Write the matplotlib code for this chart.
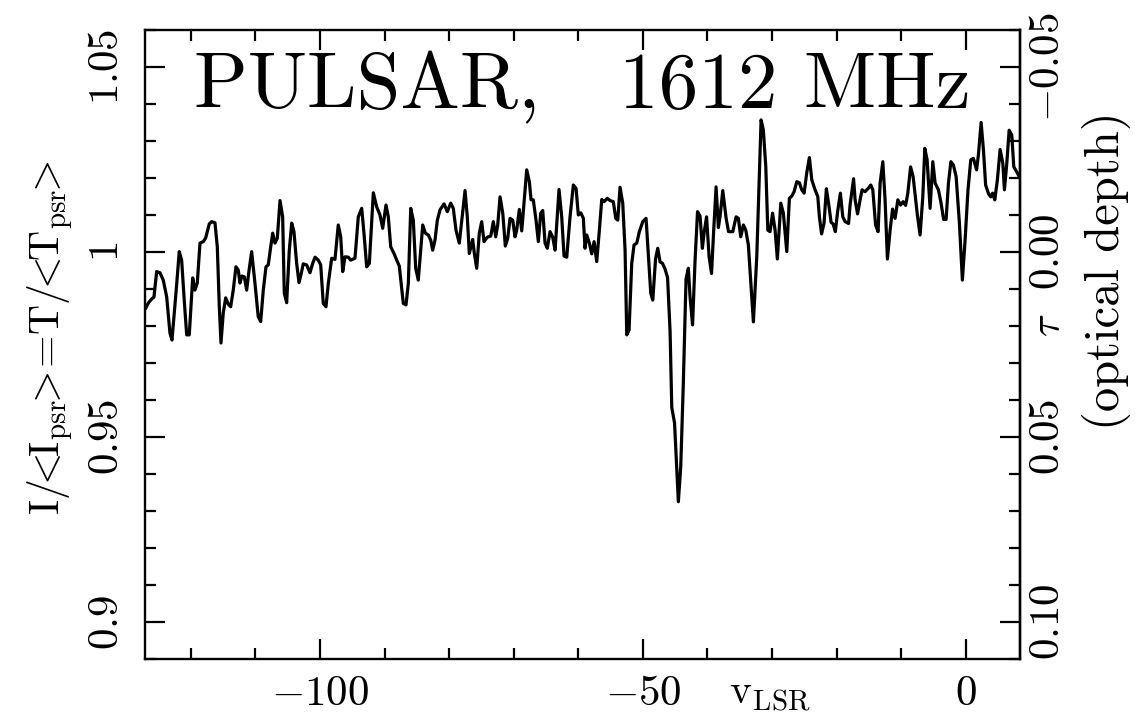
import numpy as np
import matplotlib
matplotlib.use('Agg')
import matplotlib.pyplot as plt
from matplotlib.ticker import MultipleLocator, FixedLocator

plt.rcParams['mathtext.fontset'] = 'cm'
plt.rcParams['font.family'] = ['cmr10', 'DejaVu Serif']
plt.rcParams['axes.formatter.use_mathtext'] = True

# LSR velocity (km/s) of each spectrum vertex
vlsr = [
    -126.95, -126.59, -126.06, -125.71, -125.29, -124.78, -124.27, -123.74, -123.23, -122.92,
    -122.30, -121.79, -121.42, -121.02, -120.64, -120.24, -119.71, -119.36, -119.00, -118.58,
    -118.07, -117.70, -117.14, -116.77, -116.26, -115.90, -115.59, -115.33, -114.98, -114.60,
    -114.20, -113.83, -113.43, -113.01, -112.65, -112.39, -112.08, -111.72, -111.35, -111.04,
    -110.58, -110.07, -109.56, -109.18, -108.78, -108.36, -108.01, -107.63, -107.32, -106.97,
    -106.61, -106.19, -105.78, -105.53, -105.16, -104.75, -104.38, -104.03, -103.61, -103.25,
    -102.90, -102.59, -102.06, -101.55, -101.13, -100.77, -100.26, -99.89, -99.49, -99.07,
    -98.71, -98.19, -97.68, -97.17, -96.79, -96.48, -96.13, -95.62, -95.25, -94.58,
    -94.07, -93.54, -93.19, -92.77, -92.36, -91.74, -91.22, -90.71, -90.29, -89.78,
    -89.42, -89.05, -88.54, -88.12, -87.72, -87.10, -86.68, -86.32, -85.95, -85.55,
    -85.18, -84.78, -84.09, -83.69, -83.23, -82.85, -82.55, -82.19, -81.83, -81.41,
    -80.79, -80.28, -79.76, -79.36, -78.94, -78.43, -77.54, -77.19, -76.88, -76.35,
    -76.10, -75.73, -75.33, -74.96, -74.60, -74.09, -73.56, -73.16, -72.79, -72.48,
    -72.12, -71.70, -71.30, -70.93, -70.57, -70.16, -69.80, -69.54, -69.13, -68.76,
    -67.99, -67.58, -67.32, -66.97, -66.55, -66.19, -65.82, -65.51, -65.15, -64.80,
    -64.38, -63.96, -63.60, -62.99, -62.57, -62.21, -61.79, -61.28, -60.77, -60.35,
    -60.00, -59.62, -59.22, -58.96, -58.70, -58.29, -57.92, -57.56, -57.15, -56.74,
    -56.37, -56.02, -55.51, -55.09, -54.58, -54.20, -53.89, -53.54, -53.12, -52.76,
    -52.50, -52.14, -51.73, -51.37, -50.95, -50.55, -50.02, -49.51, -49.16, -48.78,
    -48.47, -48.04, -47.70, -47.34, -46.99, -46.57, -46.18, -45.79, -45.53, -45.10,
    -44.51, -44.14, -43.74, -43.32, -42.96, -42.70, -42.31, -41.92, -41.54, -41.15,
    -40.79, -40.53, -40.14, -39.75, -39.37, -39.06, -38.67, -38.31, -38.05, -37.63,
    -37.12, -36.74, -36.08, -35.57, -35.22, -34.85, -34.44, -34.07, -33.67, -32.89,
    -32.37, -32.01, -31.70, -31.35, -30.97, -30.66, -30.31, -29.92, -29.53, -29.18,
    -28.65, -28.25, -27.72, -27.32, -26.95, -26.59, -26.17, -25.77, -25.40, -25.04,
    -24.62, -24.22, -23.85, -23.34, -22.92, -22.67, -22.33, -21.95, -21.59, -21.25,
    -20.86, -20.55, -20.20, -19.85, -19.42, -19.05, -18.69, -18.15, -17.92, -17.38,
    -17.14, -16.76, -16.37, -16.06, -15.60, -15.05, -14.71, -14.40, -13.97, -13.58,
    -13.27, -12.85, -12.50, -12.14, -11.72, -11.34, -10.95, -10.52, -10.10, -9.71,
    -9.32, -8.98, -8.55, -8.16, -7.85, -7.50, -7.08, -6.66, -6.35, -5.99,
    -5.53, -5.11, -4.75, -4.24, -3.83, -3.44, -3.05, -2.69, -2.31, -1.92,
    -1.50, -0.99, -0.53, -0.11, 0.33, 0.77, 1.18, 1.67, 1.95, 2.37,
    2.73, 3.07, 3.53, 3.87, 4.15, 4.49, 4.89, 5.31, 5.73, 5.98,
    6.35, 6.71, 7.12, 7.43, 7.90, 8.41,
]

# on-pulse intensity normalised to the mean pulsar intensity
intensity = [
    0.9849, 0.9862, 0.9873, 0.9878, 0.9947, 0.9944, 0.9924, 0.9879, 0.9781, 0.9762,
    0.9889, 1.0001, 0.9978, 0.9870, 0.9776, 0.9776, 0.9930, 0.9897, 0.9916, 1.0024,
    1.0028, 1.0038, 1.0076, 1.0082, 1.0079, 1.0014, 0.9852, 0.9754, 0.9835, 0.9876,
    0.9859, 0.9852, 0.9897, 0.9960, 0.9951, 0.9916, 0.9935, 0.9933, 0.9897, 0.9943,
    1.0001, 0.9916, 0.9825, 0.9812, 0.9897, 0.9960, 0.9965, 1.0014, 1.0051, 1.0024,
    1.0037, 1.0139, 1.0095, 0.9889, 0.9863, 1.0005, 1.0078, 1.0055, 0.9969, 0.9917,
    0.9942, 0.9968, 0.9965, 0.9944, 0.9969, 0.9986, 0.9978, 0.9965, 0.9861, 0.9852,
    0.9915, 0.9983, 0.9980, 1.0073, 1.0041, 0.9947, 0.9987, 0.9986, 0.9978, 0.9983,
    1.0095, 1.0118, 1.0051, 0.9960, 0.9969, 1.0160, 1.0122, 1.0100, 1.0064, 1.0127,
    1.0095, 1.0014, 0.9996, 0.9978, 0.9962, 0.9861, 0.9857, 0.9915, 1.0118, 1.0086,
    0.9956, 0.9924, 1.0073, 1.0051, 1.0046, 1.0032, 1.0005, 1.0032, 1.0086, 1.0114,
    1.0130, 1.0109, 1.0132, 1.0118, 1.0059, 1.0024, 1.0166, 1.0095, 0.9996, 1.0034,
    0.9996, 0.9956, 1.0051, 1.0082, 1.0028, 1.0040, 1.0043, 1.0082, 1.0041, 1.0073,
    1.0149, 1.0105, 1.0016, 1.0037, 1.0091, 1.0086, 1.0041, 1.0059, 1.0115, 1.0057,
    1.0222, 1.0190, 1.0141, 1.0141, 1.0086, 1.0028, 1.0105, 1.0112, 1.0024, 1.0010,
    1.0055, 1.0040, 1.0005, 1.0169, 1.0095, 0.9989, 0.9986, 1.0095, 1.0181, 1.0172,
    1.0100, 1.0106, 1.0091, 1.0010, 1.0046, 1.0024, 0.9995, 1.0028, 0.9974, 1.0059,
    1.0142, 1.0136, 1.0145, 1.0139, 1.0136, 1.0091, 1.0086, 1.0175, 1.0132, 1.0005,
    0.9776, 0.9789, 0.9969, 1.0019, 1.0024, 1.0055, 1.0082, 1.0091, 0.9995, 0.9888,
    0.9870, 0.9981, 1.0010, 0.9973, 0.9970, 0.9954, 0.9931, 0.9785, 0.9580, 0.9538,
    0.9325, 0.9420, 0.9645, 0.9927, 0.9956, 0.9879, 0.9803, 0.9978, 1.0109, 1.0097,
    1.0010, 1.0051, 1.0095, 0.9987, 0.9942, 1.0051, 1.0176, 1.0066, 1.0097, 1.0166,
    1.0092, 1.0055, 1.0055, 1.0095, 1.0091, 1.0041, 1.0073, 1.0059, 1.0019, 0.9811,
    0.9986, 1.0186, 1.0357, 1.0330, 1.0230, 1.0059, 1.0055, 1.0105, 1.0059, 0.9981,
    1.0132, 1.0105, 1.0001, 1.0145, 1.0151, 1.0163, 1.0190, 1.0187, 1.0168, 1.0159,
    1.0215, 1.0255, 1.0195, 1.0168, 1.0150, 1.0095, 1.0049, 1.0078, 1.0171, 1.0132,
    1.0080, 1.0076, 1.0055, 1.0109, 1.0159, 1.0095, 1.0082, 1.0077, 1.0127, 1.0198,
    1.0141, 1.0103, 1.0141, 1.0168, 1.0163, 1.0173, 1.0181, 1.0168, 1.0073, 1.0055,
    1.0186, 1.0244, 1.0141, 0.9981, 1.0059, 1.0116, 1.0091, 1.0141, 1.0127, 1.0136,
    1.0126, 1.0159, 1.0230, 1.0204, 1.0154, 1.0100, 1.0046, 1.0149, 1.0280, 1.0249,
    1.0118, 1.0244, 1.0186, 1.0168, 1.0132, 1.0088, 1.0088, 1.0186, 1.0244, 1.0235,
    1.0204, 1.0078, 0.9924, 1.0032, 1.0166, 1.0249, 1.0253, 1.0222, 1.0262, 1.0350,
    1.0276, 1.0181, 1.0157, 1.0149, 1.0159, 1.0141, 1.0195, 1.0277, 1.0240, 1.0168,
    1.0240, 1.0329, 1.0316, 1.0230, 1.0216, 1.0199,
]

x_ticks = [-100, -50, 0]
x_labels = [r'$-100$', r'$-50$', r'$0$']
y_ticks = [0.9, 0.95, 1.0, 1.05]
y_labels = [r'$0.9$', r'$0.95$', r'$1$', r'$1.05$']
tau_ticks = [-0.05, 0.0, 0.05, 0.10]
tau_labels = [r'$-0.05$', r'$0.00$', r'$0.05$', r'$0.10$']


def draw():
    fig = plt.figure(figsize=(11.46, 7.28), dpi=100)
    ax = fig.add_axes([0.1265, 0.0948, 0.7636, 0.864])

    ax.plot(vlsr, intensity, color='black', lw=2.3, solid_joinstyle='round')

    ax.set_xlim(-127.1, 8.4)
    ax.set_ylim(0.89, 1.06)

    ax.xaxis.set_major_locator(FixedLocator(x_ticks))
    ax.xaxis.set_minor_locator(MultipleLocator(10))
    ax.set_xticklabels(x_labels, fontsize=31)
    ax.yaxis.set_major_locator(FixedLocator(y_ticks))
    ax.yaxis.set_minor_locator(MultipleLocator(0.01))
    ax.set_yticklabels(y_labels, fontsize=31, rotation=90, va='center')

    ax.tick_params(which='both', direction='in', top=True, right=False, width=1.6)
    ax.tick_params(which='major', length=14.5)
    ax.tick_params(which='minor', length=8)
    ax.tick_params(axis='x', which='major', pad=12)
    ax.tick_params(axis='y', which='major', pad=14)
    for sp in ax.spines.values():
        sp.set_linewidth(1.7)

    # optical depth axis: tau = 1 - I/<I_psr>
    sec = ax.secondary_yaxis('right', functions=(lambda y: 1 - y, lambda t: 1 - t))
    sec.yaxis.set_major_locator(FixedLocator(tau_ticks))
    sec.yaxis.set_minor_locator(MultipleLocator(0.01))
    sec.set_yticklabels(tau_labels, fontsize=31, rotation=90, va='center')
    sec.tick_params(which='both', direction='in', width=1.6)
    sec.tick_params(which='major', length=14.5, pad=7)
    sec.tick_params(which='minor', length=8)
    sec.spines['right'].set_linewidth(1.7)

    ax.text(0.5, 0.875, 'PULSAR,   1612 MHz', transform=ax.transAxes,
            ha='center', va='baseline', fontsize=57, family='cmr10')

    fig.text(50 / 1146, 1 - 338 / 728,
             r'$\mathrm{I/\!\!<\!\!I_{psr}\!\!>\!\!=\!T/\!\!<\!\!T_{psr}\!\!>}$',
             rotation=90, ha='center', va='center', fontsize=30)
    fig.text(770 / 1146, 1 - 704 / 728, r'$\mathrm{v_{LSR}}$',
             ha='center', va='baseline', fontsize=30)
    fig.text(1049 / 1146, 1 - 325 / 728, r'$\tau$', rotation=90,
             ha='center', va='center', fontsize=30)
    fig.text(1106 / 1146, 1 - 271 / 728, '(optical depth)', rotation=90,
             ha='center', va='center', fontsize=35, family='cmr10')

    fig.savefig('out.png', dpi=100, facecolor='white')


if __name__ == '__main__':
    draw()
